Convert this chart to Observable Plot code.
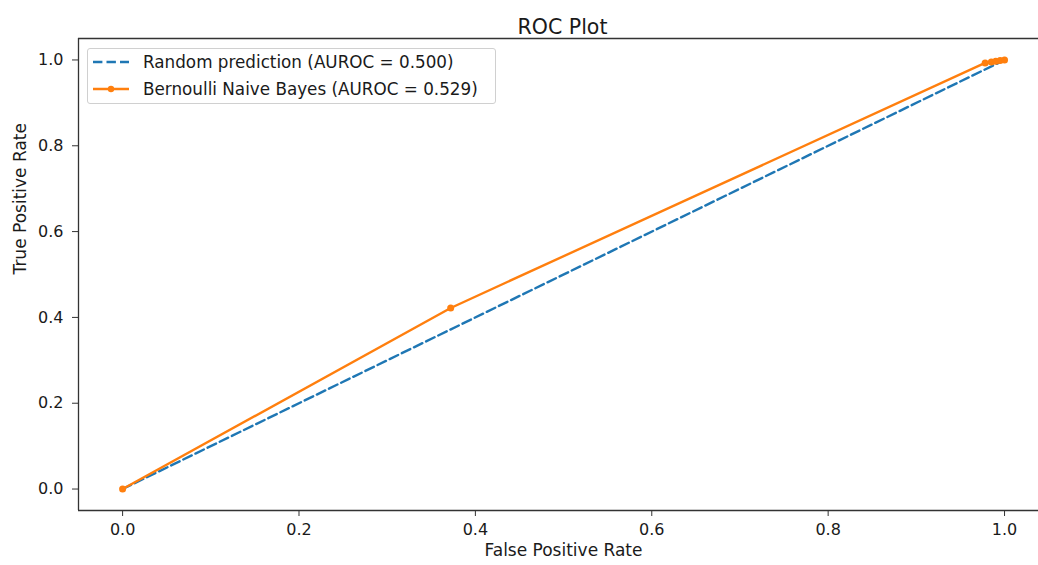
<!DOCTYPE html>
<html>
<head>
<meta charset="utf-8">
<script src="https://cdn.jsdelivr.net/npm/d3@7"></script>
<script src="https://cdn.jsdelivr.net/npm/@observablehq/plot@0.6"></script>
<style>
  html, body { margin: 0; padding: 0; background: #fff; }
  #chart { position: relative; width: 1038px; height: 565px; overflow: hidden; font-family: "DejaVu Sans", sans-serif; }
  .legend { position: absolute; left: 87px; top: 48px; width: 407px; height: 54px;
            border: 1px solid #d0d0d0; border-radius: 3px; background: rgba(255,255,255,0.85);
            font-size: 16.8px; color: #1a1a1a; }
  .legend .row { position: absolute; left: 0; height: 20px; display: flex; align-items: center; white-space: nowrap; }
  .legend svg { display: block; margin-left: 5px; margin-right: 14px; }
</style>
</head>
<body>
<div id="chart"></div>
<script>
// Chance diagonal
const randomFpr = [0, 1];
const randomTpr = [0, 1];

// Bernoulli Naive Bayes ROC curve points
const nbFpr = [0, 0.372, 0.978, 0.985, 0.99, 0.995, 1];
const nbTpr = [0, 0.422, 0.993, 0.995, 0.997, 0.999, 1];

const xTicks = [0, 0.2, 0.4, 0.6, 0.8, 1.0];
const yTicks = [0, 0.2, 0.4, 0.6, 0.8, 1.0];

const seriesNames = ["Random prediction (AUROC = 0.500)", "Bernoulli Naive Bayes (AUROC = 0.529)"];
const blue = "#1f77b4";
const orange = "#ff7f0e";
const fmt = d3.format(".1f");
const dash = "9.4,4.1";

const chart = Plot.plot({
  width: 1038,
  height: 565,
  marginLeft: 78,
  marginRight: 0,
  marginTop: 38,
  marginBottom: 55,
  style: { fontFamily: "DejaVu Sans, sans-serif", fontSize: "16px", color: "#1a1a1a", background: "white" },
  x: { domain: [-0.05, 1.0385], label: null },
  y: { domain: [-0.05, 1.05], label: null },
  marks: [
    Plot.axisX({ ticks: xTicks, tickFormat: fmt, tickSize: 6, tickPadding: 7, fontSize: 16, stroke: "#333", label: null }),
    Plot.axisY({ ticks: yTicks, tickFormat: fmt, tickSize: 6, tickPadding: 9, fontSize: 16, stroke: "#333", label: null }),
    Plot.line(randomFpr, { x: randomFpr, y: randomTpr, stroke: blue, strokeWidth: 2.4, strokeDasharray: dash }),
    Plot.line(nbFpr, { x: nbFpr, y: nbTpr, stroke: orange, strokeWidth: 2.4 }),
    Plot.dot(nbFpr, { x: nbFpr, y: nbTpr, fill: orange, r: 3.5, stroke: "none" }),
    Plot.ruleX([-0.05], { stroke: "#333", strokeWidth: 1.3 }),
    Plot.ruleY([-0.05, 1.05], { stroke: "#333", strokeWidth: 1.3 }),
    Plot.text(["ROC Plot"], { frameAnchor: "top", dy: -19, dx: 4, fontSize: 20.5, fill: "#1a1a1a" }),
    Plot.text(["False Positive Rate"], { frameAnchor: "bottom", dy: 45, dx: 5, fontSize: 17, fill: "#1a1a1a" }),
    Plot.text(["True Positive Rate"], { frameAnchor: "left", dx: -58, rotate: -90, fontSize: 17, fill: "#1a1a1a" })
  ]
});

const container = document.getElementById("chart");
container.appendChild(chart);

// Legend box in the upper-left corner of the axes
const legend = document.createElement("div");
legend.className = "legend";
const swatches = [
  `<svg width="36" height="12"><line x1="0" y1="6" x2="36" y2="6" stroke="${blue}" stroke-width="2.4" stroke-dasharray="${dash}"/></svg>`,
  `<svg width="36" height="12"><line x1="0" y1="6" x2="36" y2="6" stroke="${orange}" stroke-width="2.4"/><circle cx="18" cy="6" r="3.2" fill="${orange}"/></svg>`
];
seriesNames.forEach((name, i) => {
  const row = document.createElement("div");
  row.className = "row";
  row.style.top = (3 + i * 27) + "px";
  row.innerHTML = swatches[i] + `<span>${name}</span>`;
  legend.appendChild(row);
});
container.appendChild(legend);
</script>
</body>
</html>
